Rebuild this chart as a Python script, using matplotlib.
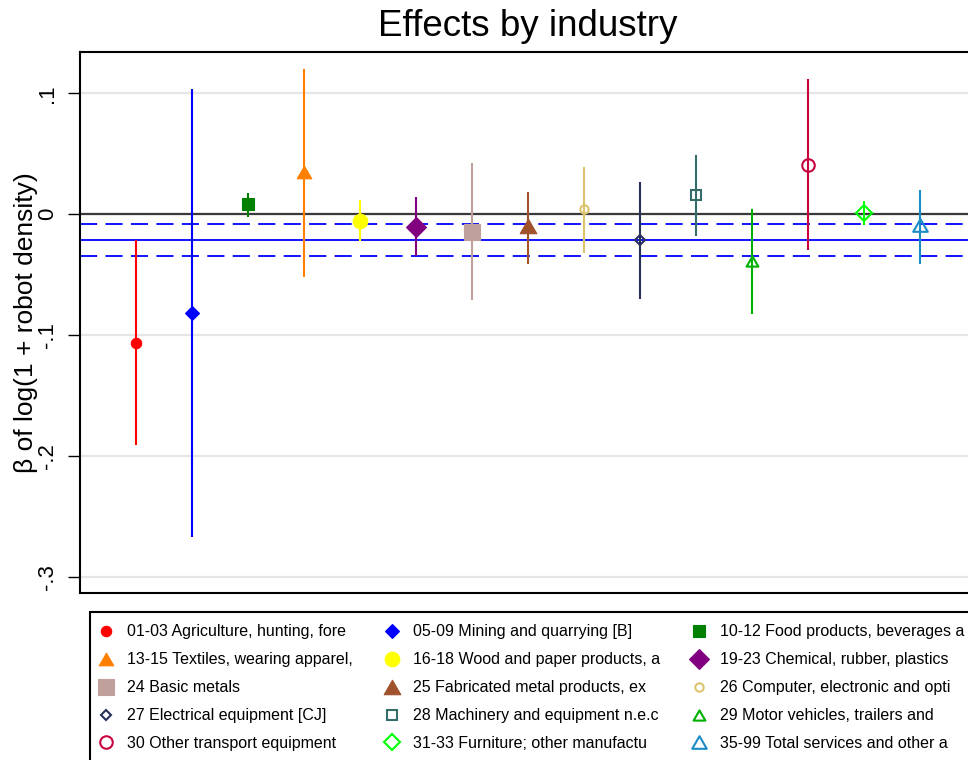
import numpy as np
import matplotlib
matplotlib.use("Agg")
import matplotlib.pyplot as plt
from matplotlib.lines import Line2D
from matplotlib.path import Path

plt.rcParams['font.family'] = ['Liberation Sans', 'DejaVu Sans']

# industry estimates with 95% confidence bounds
industries = [
    "01-03 Agriculture, hunting, fore",
    "05-09 Mining and quarrying [B]",
    "10-12 Food products, beverages a",
    "13-15 Textiles, wearing apparel,",
    "16-18 Wood and paper products, a",
    "19-23 Chemical, rubber, plastics",
    "24 Basic metals",
    "25 Fabricated metal products, ex",
    "26 Computer, electronic and opti",
    "27 Electrical equipment [CJ]",
    "28 Machinery and equipment n.e.c",
    "29 Motor vehicles, trailers and",
    "30 Other transport equipment",
    "31-33 Furniture; other manufactu",
    "35-99 Total services and other a",
]
beta = [-0.1062, -0.0820, 0.0083, 0.0347, -0.0055, -0.0110, -0.0145, -0.0098,
        0.0039, -0.0215, 0.0157, -0.0387, 0.0405, 0.0006, -0.0087]
ci_low = [-0.1910, -0.2670, -0.0022, -0.0518, -0.0223, -0.0347, -0.0710, -0.0413,
          -0.0320, -0.0700, -0.0180, -0.0826, -0.0298, -0.0090, -0.0413]
ci_high = [-0.0210, 0.1033, 0.0179, 0.1200, 0.0116, 0.0138, 0.0420, 0.0184,
           0.0386, 0.0267, 0.0490, 0.0039, 0.1116, 0.0110, 0.0204]

# pooled estimate and its confidence band
pooled = -0.0215
pooled_lo = -0.0347
pooled_hi = -0.0085

colors = ["#ff0000", "#0000ff", "#008000", "#ff8000", "#ffff00", "#800080",
          "#bfa09a", "#a0522d", "#dcc46e", "#26305a", "#336e6a", "#00b000",
          "#c8003c", "#00ff00", "#1c8cc8"]

# equilateral triangle centred on its bounding box
tri = Path([(0, 0.5), (-0.577, -0.5), (0.577, -0.5), (0, 0.5)],
           [Path.MOVETO, Path.LINETO, Path.LINETO, Path.CLOSEPOLY])

markers = ['o', 'D', 's', tri, 'o', 'D', 's', tri,
           'o', 'D', 's', tri, 'o', 'D', tri]
sizes = [7.5, 7.0, 8.0, 10.5, 10.5, 9.8, 11.0, 12.0,
         6.0, 5.6, 7.0, 8.5, 9.0, 8.4, 10.5]
filled = [True] * 8 + [False] * 7

fig = plt.figure(figsize=(9.68, 7.6), dpi=100)
ax = fig.add_axes([80 / 968, 1 - 593 / 760, 896 / 968, (593 - 52.3) / 760])

yticks = [0.1, 0, -0.1, -0.2, -0.3]
ytick_labels = [".1", "0", "-.1", "-.2", "-.3"]
for t in yticks:
    ax.axhline(t, color="#e6e6e6", lw=1.6, zorder=0)

ax.axhline(0, color="#3a3a3a", lw=1.6, zorder=1)
ax.axhline(pooled, color="#0000ff", lw=1.3, zorder=1)
for b in (pooled_lo, pooled_hi):
    ax.axhline(b, color="#0000ff", lw=1.3, dashes=(9.5, 4.6), zorder=1)

x = np.arange(1, len(beta) + 1)
handles = []
for i in range(len(beta)):
    c = colors[i]
    ax.vlines(x[i], ci_low[i], ci_high[i], color=c, lw=1.5, zorder=2)
    style = dict(marker=markers[i], markersize=sizes[i], linestyle='none',
                 markeredgecolor=c,
                 markerfacecolor=c if filled[i] else 'none',
                 markeredgewidth=0.8 if filled[i] else 1.5)
    ax.plot(x[i], beta[i], zorder=3, **style)
    handles.append(Line2D([], [], **style))

ax.set_xlim(0, 16)
ax.set_ylim(-0.3131, 0.1338)
ax.set_xticks([])
ax.set_yticks(yticks)
ax.set_yticklabels(ytick_labels, rotation=90, va='center', fontsize=16)
ax.tick_params(axis='y', length=9, width=1, pad=7)

for s in ['left', 'top', 'bottom']:
    ax.spines[s].set_linewidth(1.5)
    ax.spines[s].set_color('black')
ax.spines['right'].set_visible(False)

ax.set_ylabel("β of log(1 + robot density)", fontsize=19)
ax.yaxis.set_label_coords(-0.047, 0.5)

ax.set_title("Effects by industry", fontsize=26.5, pad=12)

# legend fills row by row, matplotlib fills columns, so reorder
ncol, nrow = 3, 5
order = [r * ncol + c for c in range(ncol) for r in range(nrow)]
leg = fig.legend([handles[k] for k in order], [industries[k] for k in order],
                 ncol=ncol, loc='upper left',
                 bbox_to_anchor=(90 / 968, 1 - 612.3 / 760),
                 borderaxespad=0, fontsize=11.5, frameon=True, fancybox=False,
                 edgecolor='black', framealpha=1, numpoints=1,
                 handlelength=0.5, handletextpad=1.06, columnspacing=2.2,
                 labelspacing=0.81, borderpad=0.75)
leg.get_frame().set_linewidth(1.5)

fig.savefig("out.png", dpi=100)
